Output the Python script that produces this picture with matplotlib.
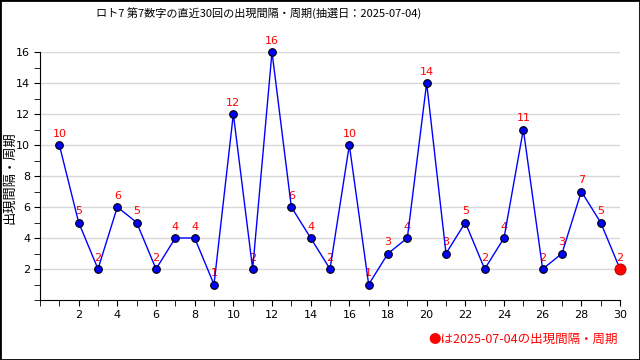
import matplotlib
matplotlib.use("Agg")
import matplotlib.pyplot as plt
from matplotlib.patches import Rectangle
from matplotlib.ticker import MultipleLocator

plt.rcParams['font.family'] = ['DejaVu Sans', 'Noto Sans CJK JP']

draws = list(range(1, 31))
intervals = [10, 5, 2, 6, 5, 2, 4, 4, 1, 12, 2, 16, 6, 4, 2, 10, 1, 3, 4, 14,
             3, 5, 2, 4, 11, 2, 3, 7, 5, 2]
title = "ロト7 第7数字の直近30回の出現間隔・周期(抽選日：2025-07-04)"
ylabel = "出現間隔・周期"
note = "●は2025-07-04の出現間隔・周期"

jp = ['Noto Sans CJK JP', 'DejaVu Sans']

fig = plt.figure(figsize=(6.4, 3.6), dpi=100)
ax = fig.add_axes([40/640, 60/360, 580/640, 248/360])

ax.plot(draws, intervals, color='#0000ff', linewidth=1, zorder=3,
        marker='o', markersize=5.5, markerfacecolor='#0000ff',
        markeredgecolor='black', markeredgewidth=0.8, clip_on=False)
ax.plot(draws[-1], intervals[-1], 'o', color='#ff0000', markersize=8,
        markeredgecolor='#aa0000', markeredgewidth=0.6, zorder=4, clip_on=False)

for x, y in zip(draws, intervals):
    ax.annotate(str(y), (x, y), xytext=(0, 8), textcoords='offset points',
                ha='center', va='center', color='#ff0000', fontsize=8, zorder=2)

ax.set_xlim(0, 30)
ax.set_ylim(0, 16)
ax.xaxis.set_minor_locator(MultipleLocator(1))
ax.yaxis.set_minor_locator(MultipleLocator(1))
ax.set_xticks([t for t in range(2, 31, 2)])
ax.set_yticks([t for t in range(2, 17, 2)])
ax.tick_params(axis='both', which='major', length=4, labelsize=8, color='black', pad=3)
ax.tick_params(axis='both', which='minor', length=4, color='black')
ax.grid(axis='y', which='major', color='#d8d8d8', linewidth=1, zorder=0)
ax.set_axisbelow(True)
for s in ['top', 'right']:
    ax.spines[s].set_visible(False)

fig.text(259/640, 1 - 13/360, title, ha='center', va='center', fontsize=8, family=jp)
fig.text(10/640, 1 - 178/360, ylabel, ha='center', va='center', rotation=90,
         fontsize=9.5, family=jp)
fig.text(618/640, 1 - 339/360, note, ha='right', va='center', fontsize=9,
         color='#ff0000', family=jp)

fig.patches.append(Rectangle((0, 0), 1, 1, transform=fig.transFigure,
                             fill=False, edgecolor='black', linewidth=2))

fig.savefig('out.png', dpi=100)
